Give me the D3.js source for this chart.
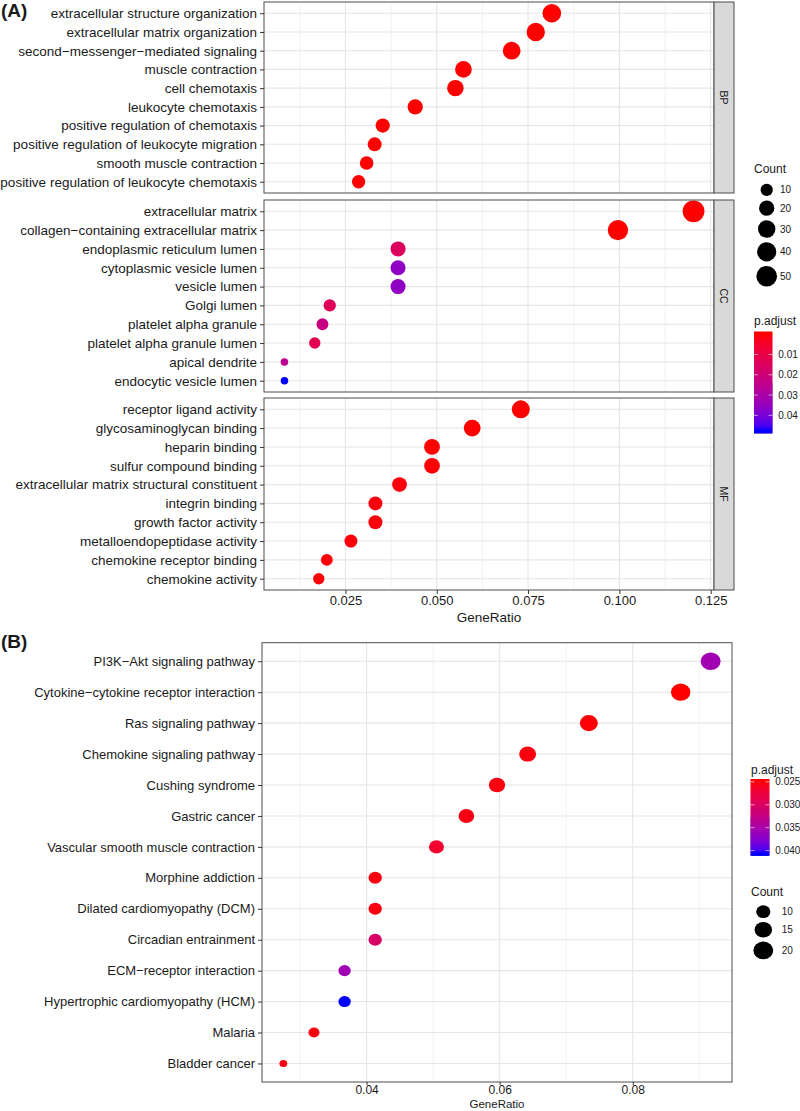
<!DOCTYPE html>
<html><head><meta charset="utf-8">
<script src="https://cdn.jsdelivr.net/npm/d3@7"></script>
<style>body{margin:0;background:#fff} text{font-family:"Liberation Sans",Arial,sans-serif;fill:#1a1a1a}</style>
</head><body><svg id="c" width="800" height="1111"></svg>
<script>
// ---------- DATA: panel A (GO) ----------
const ontologies = ["BP", "CC", "MF"];
const bpTerms = ["extracellular structure organization","extracellular matrix organization","second\u2212messenger\u2212mediated signaling","muscle contraction","cell chemotaxis","leukocyte chemotaxis","positive regulation of chemotaxis","positive regulation of leukocyte migration","smooth muscle contraction","positive regulation of leukocyte chemotaxis"];
const bpRatio = [0.0815,0.0771,0.0705,0.0573,0.0551,0.0441,0.0352,0.0330,0.0308,0.0286];
const bpCount = [37,35,32,26,25,20,16,15,14,13];
const bpPadj  = [1e-9,1e-9,2e-7,1e-6,1e-6,5e-6,3e-5,5e-5,8e-5,1e-4];
const ccTerms = ["extracellular matrix","collagen\u2212containing extracellular matrix","endoplasmic reticulum lumen","cytoplasmic vesicle lumen","vesicle lumen","Golgi lumen","platelet alpha granule","platelet alpha granule lumen","apical dendrite","endocytic vesicle lumen"];
const ccRatio = [0.1203,0.0996,0.0394,0.0394,0.0394,0.0207,0.0187,0.0166,0.0083,0.0083];
const ccCount = [58,48,19,19,19,10,9,8,4,4];
const ccPadj  = [1e-12,1e-10,0.0145,0.036,0.036,0.0135,0.022,0.0125,0.026,0.0476];
const mfTerms = ["receptor ligand activity","glycosaminoglycan binding","heparin binding","sulfur compound binding","extracellular matrix structural constituent","integrin binding","growth factor activity","metalloendopeptidase activity","chemokine receptor binding","chemokine activity"];
const mfRatio = [0.0730,0.0597,0.0487,0.0487,0.0398,0.0332,0.0332,0.0265,0.0199,0.0177];
const mfCount = [33,27,22,22,18,15,15,12,9,8];
const mfPadj  = [1e-6,2e-5,2e-4,2e-4,1e-3,8e-4,8e-4,6e-4,5e-4,5e-4];
const aXTicks = [0.025,0.050,0.075,0.100,0.125];
const aXTickLabels = ["0.025","0.050","0.075","0.100","0.125"];
const aCountBreaks = [10,20,30,40,50];
const aPadjBreaks = [0.01,0.02,0.03,0.04];
const aPadjLabels = ["0.01","0.02","0.03","0.04"];

// ---------- DATA: panel B (KEGG) ----------
const keggTerms = ["PI3K\u2212Akt signaling pathway","Cytokine\u2212cytokine receptor interaction","Ras signaling pathway","Chemokine signaling pathway","Cushing syndrome","Gastric cancer","Vascular smooth muscle contraction","Morphine addiction","Dilated cardiomyopathy (DCM)","Circadian entrainment","ECM\u2212receptor interaction","Hypertrophic cardiomyopathy (HCM)","Malaria","Bladder cancer"];
const keggRatio = [0.0917,0.0872,0.0734,0.0642,0.0596,0.0550,0.0505,0.0413,0.0413,0.0413,0.0367,0.0367,0.0321,0.0275];
const keggCount = [20,19,16,14,13,12,11,9,9,9,8,8,7,6];
const keggPadj  = [0.0356,0.0248,0.0249,0.0252,0.0252,0.0254,0.0266,0.0252,0.0252,0.0303,0.0356,0.0407,0.0252,0.0252];
const bXTicks = [0.04,0.06,0.08];
const bXTickLabels = ["0.04","0.06","0.08"];
const bPadjBreaks = [0.025,0.030,0.035,0.040];
const bPadjLabels = ["0.025","0.030","0.035","0.040"];
const bCountBreaks = [10,15,20];

// ---------- helpers ----------
const svg = d3.select("#c");
const GRID_MAJOR = "#e6e6e6", GRID_MINOR = "#f1f1f1", BORDER = "#4d4d4d";
function expand(ext){const r=ext[1]-ext[0];return [ext[0]-0.05*r, ext[1]+0.05*r];}
function minorTicks(ticks, dom){const s=ticks[1]-ticks[0];const out=[];
  [ticks[0]-s/2, ...ticks.map(t=>t+s/2)].forEach(v=>{if(v>dom[0]&&v<dom[1])out.push(v);});return out;}
function areaSize(ext, dmin, dmax){return v => dmin + (dmax-dmin)*Math.sqrt((v-ext[0])/(ext[1]-ext[0]));}
function colorScale(ext){return d3.scaleLinear().domain(ext).range(["#ff0000","#0000ff"]).interpolate(d3.interpolateLab);}

function drawPanel(g, x, terms, ratio, count, padj, x0, x1, y0, y1, xTicks, size, col, aspect, fontSize){
  const y = d3.scalePoint().domain(terms).range([y0,y1]).padding(0.6);
  g.append("rect").attr("x",x0).attr("y",y0).attr("width",x1-x0).attr("height",y1-y0).attr("fill","#fff");
  const dom = x.domain();
  g.selectAll(null).data(minorTicks(xTicks, dom)).enter().append("line")
    .attr("x1",d=>x(d)).attr("x2",d=>x(d)).attr("y1",y0).attr("y2",y1)
    .attr("stroke",GRID_MINOR).attr("stroke-width",0.9);
  g.selectAll(null).data(xTicks.filter(t=>t>dom[0]&&t<dom[1])).enter().append("line")
    .attr("x1",d=>x(d)).attr("x2",d=>x(d)).attr("y1",y0).attr("y2",y1)
    .attr("stroke",GRID_MAJOR).attr("stroke-width",1.1);
  g.selectAll(null).data(terms).enter().append("line")
    .attr("x1",x0).attr("x2",x1).attr("y1",d=>y(d)).attr("y2",d=>y(d))
    .attr("stroke",GRID_MAJOR).attr("stroke-width",1.1);
  const idx = d3.range(terms.length);
  g.selectAll(null).data(idx).enter().append("ellipse")
    .attr("cx",i=>x(ratio[i])).attr("cy",i=>y(terms[i]))
    .attr("rx",i=>size(count[i])/2*aspect).attr("ry",i=>size(count[i])/2)
    .attr("fill",i=>col(padj[i]));
  g.append("rect").attr("x",x0).attr("y",y0).attr("width",x1-x0).attr("height",y1-y0)
    .attr("fill","none").attr("stroke",BORDER).attr("stroke-width",1);
  const ax = g.append("g").attr("transform",`translate(${x0},0)`)
    .call(d3.axisLeft(y).tickSize(4).tickPadding(3));
  ax.select(".domain").remove();
  ax.selectAll(".tick line").attr("stroke","#333");
  ax.selectAll(".tick text").style("font-size",fontSize+"px").attr("fill","#1a1a1a")
    .style("font-family","'Liberation Sans',Arial,sans-serif");
  return y;
}
function drawXAxis(g, x, y1, ticks, labels, fontSize, tsize, pad){
  const ax = g.append("g").attr("transform",`translate(0,${y1})`)
    .call(d3.axisBottom(x).tickValues(ticks).tickFormat((d,i)=>labels[i]).tickSize(tsize).tickPadding(pad));
  ax.select(".domain").remove();
  ax.selectAll(".tick line").attr("stroke","#333");
  ax.selectAll(".tick text").style("font-size",fontSize+"px").attr("fill","#1a1a1a")
    .style("font-family","'Liberation Sans',Arial,sans-serif");
}
function colorbar(g, id, col, ext, breaks, labels, bx, by, bw, bh, fs){
  const grad = svg.append("defs").append("linearGradient").attr("id",id)
    .attr("x1",0).attr("y1",0).attr("x2",0).attr("y2",1);
  d3.range(0,21).forEach(i=>{
    const v = ext[0]+(ext[1]-ext[0])*i/20;
    grad.append("stop").attr("offset",0.025+0.95*i/20).attr("stop-color",col(v));
  });
  g.append("rect").attr("x",bx).attr("y",by).attr("width",bw).attr("height",bh).attr("fill",col(ext[0]));
  g.append("rect").attr("x",bx).attr("y",by+bh*0.5).attr("width",bw).attr("height",bh*0.5).attr("fill",col(ext[1]));
  g.append("rect").attr("x",bx).attr("y",by).attr("width",bw).attr("height",bh).attr("fill",`url(#${id})`);
  const ty = v => by + (0.025 + 0.95*(v-ext[0])/(ext[1]-ext[0]))*bh;
  breaks.forEach((b,i)=>{
    g.append("line").attr("x1",bx).attr("x2",bx+bw/5).attr("y1",ty(b)).attr("y2",ty(b)).attr("stroke","#fff").attr("stroke-opacity",0.6);
    g.append("line").attr("x1",bx+bw-bw/5).attr("x2",bx+bw).attr("y1",ty(b)).attr("y2",ty(b)).attr("stroke","#fff").attr("stroke-opacity",0.6);
    g.append("text").attr("x",bx+bw+6).attr("y",ty(b)).attr("dy","0.35em").style("font-size",fs+"px").text(labels[i]);
  });
}
function sizeLegend(g, breaks, size, cx, topY, aspect, labelX, fs, pad){
  let yy = topY;
  breaks.forEach(b=>{
    const d = size(b), h = d + pad;
    const cy = yy + h/2;
    g.append("ellipse").attr("cx",cx).attr("cy",cy).attr("rx",d/2*aspect).attr("ry",d/2).attr("fill","#000");
    g.append("text").attr("x",labelX).attr("y",cy).attr("dy","0.35em").style("font-size",fs+"px").text(b);
    yy += h;
  });
}

// ---------- Panel A ----------
const gA = svg.append("g");
const aRatioAll = [...bpRatio,...ccRatio,...mfRatio];
const aCountAll = [...bpCount,...ccCount,...mfCount];
const aPadjAll  = [...bpPadj,...ccPadj,...mfPadj];
const xA = d3.scaleLinear().domain(expand(d3.extent(aRatioAll))).range([264,714]);
const sizeA = areaSize(d3.extent(aCountAll), 7.5, 21.8);
const colA = colorScale(d3.extent(aPadjAll));
const facetsA = [
  {terms:bpTerms, ratio:bpRatio, count:bpCount, padj:bpPadj, y0:2,   y1:193},
  {terms:ccTerms, ratio:ccRatio, count:ccCount, padj:ccPadj, y0:200, y1:392},
  {terms:mfTerms, ratio:mfRatio, count:mfCount, padj:mfPadj, y0:398, y1:590}
];
facetsA.forEach((f,k)=>{
  drawPanel(gA, xA, f.terms, f.ratio, f.count, f.padj, 264, 714, f.y0, f.y1, aXTicks, sizeA, colA, 1, 13.5);
  gA.append("rect").attr("x",714).attr("y",f.y0).attr("width",20).attr("height",f.y1-f.y0)
    .attr("fill","#d9d9d9").attr("stroke",BORDER).attr("stroke-width",1);
  gA.append("text").attr("transform",`translate(724,${(f.y0+f.y1)/2}) rotate(90)`)
    .attr("text-anchor","middle").attr("dy","0.35em").style("font-size","10.5px").text(ontologies[k]);
});
drawXAxis(gA, xA, 590, aXTicks, aXTickLabels, 13, 4, 2);
gA.append("text").attr("x",489).attr("y",621.5).attr("text-anchor","middle").style("font-size","13.5px").text("GeneRatio");
gA.append("text").attr("x",1).attr("y",17).style("font-size","19px").style("font-weight","bold").text("(A)");
gA.append("text").attr("x",754).attr("y",173).style("font-size","12px").text("Count");
sizeLegend(gA, aCountBreaks, sizeA, 766.7, 181.5, 1, 780, 10, 4.5);
gA.append("text").attr("x",754).attr("y",325).style("font-size","12px").text("p.adjust");
colorbar(gA, "gradA", colA, d3.extent(aPadjAll), aPadjBreaks, aPadjLabels, 754, 331.7, 18.3, 101.6, 10);

// ---------- Panel B ----------
const gB = svg.append("g");
const xB = d3.scaleLinear().domain(expand(d3.extent(keggRatio))).range([262,732]);
const sizeB = areaSize(d3.extent(keggCount), 7, 17.7);
const padjExtB = d3.extent(keggPadj);
const colB = colorScale(padjExtB);
drawPanel(gB, xB, keggTerms, keggRatio, keggCount, keggPadj, 262, 732, 642.7, 1082, bXTicks, sizeB, colB, 1.12, 13);
drawXAxis(gB, xB, 1082, bXTicks, bXTickLabels, 12, 3, 0);
gB.append("text").attr("x",497).attr("y",1108.3).attr("text-anchor","middle").style("font-size","11.5px").text("GeneRatio");
gB.append("text").attr("x",1).attr("y",648).style("font-size","19px").style("font-weight","bold").text("(B)");
gB.append("text").attr("x",751).attr("y",774).style("font-size","12px").text("p.adjust");
colorbar(gB, "gradB", colB, padjExtB, bPadjBreaks, bPadjLabels, 750.7, 779, 18.6, 76.7, 10);
gB.append("text").attr("x",751).attr("y",896).style("font-size","12px").text("Count");
sizeLegend(gB, bCountBreaks, sizeB, 763.3, 903.3, 1.12, 781.7, 10, 4);
</script></body></html>
